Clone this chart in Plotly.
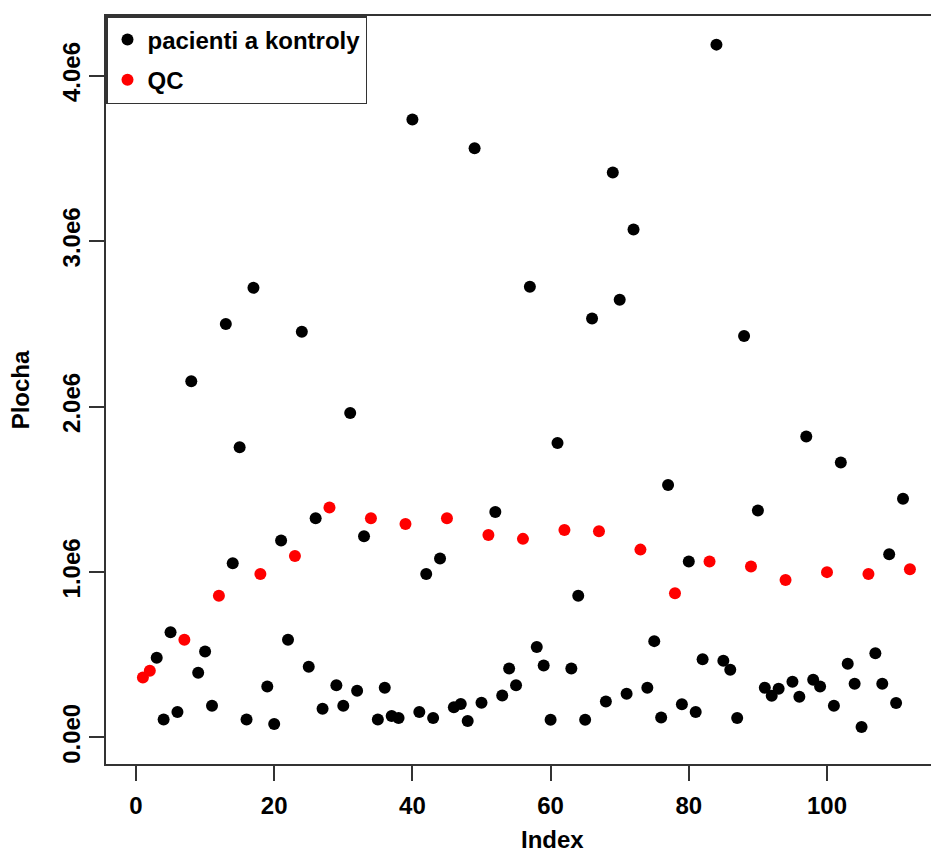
import plotly.graph_objects as go

# Peak area (Plocha) per injection, in run order (Index 1..112)
index = list(range(1, 113))
plocha = [
    0.362e6, 0.403e6, 0.481e6, 0.109e6, 0.636e6, 0.153e6, 0.590e6, 2.152e6, 0.391e6, 0.519e6,
    0.191e6, 0.856e6, 2.498e6, 1.053e6, 1.754e6, 0.109e6, 2.717e6, 0.988e6, 0.308e6, 0.081e6,
    1.190e6, 0.590e6, 1.097e6, 2.452e6, 0.427e6, 1.325e6, 0.173e6, 1.389e6, 0.316e6, 0.191e6,
    1.961e6, 0.282e6, 1.216e6, 1.325e6, 0.109e6, 0.300e6, 0.129e6, 0.117e6, 1.290e6, 3.734e6,
    0.153e6, 0.988e6, 0.117e6, 1.081e6, 1.325e6, 0.183e6, 0.202e6, 0.099e6, 3.561e6, 0.210e6,
    1.224e6, 1.363e6, 0.254e6, 0.417e6, 0.316e6, 1.200e6, 2.724e6, 0.546e6, 0.435e6, 0.107e6,
    1.780e6, 1.254e6, 0.417e6, 0.856e6, 0.107e6, 2.532e6, 1.246e6, 0.217e6, 3.414e6, 2.645e6,
    0.264e6, 3.070e6, 1.135e6, 0.300e6, 0.582e6, 0.121e6, 1.526e6, 0.872e6, 0.200e6, 1.063e6,
    0.153e6, 0.473e6, 1.063e6, 4.187e6, 0.463e6, 0.409e6, 0.117e6, 2.426e6, 1.033e6, 1.371e6,
    0.300e6, 0.252e6, 0.294e6, 0.952e6, 0.336e6, 0.246e6, 1.818e6, 0.348e6, 0.308e6, 0.999e6,
    0.191e6, 1.661e6, 0.445e6, 0.324e6, 0.063e6, 0.988e6, 0.509e6, 0.324e6, 1.107e6, 0.208e6,
    1.443e6, 1.017e6,
]

# Injections of the pooled QC sample
qc_index = [1, 2, 7, 12, 18, 23, 28, 34, 39, 45, 51, 56, 62, 67, 73, 78, 83, 89, 94, 100, 106, 112]

x_ticks = [0, 20, 40, 60, 80, 100]
y_ticks = [0, 1e6, 2e6, 3e6, 4e6]
y_tick_text = ["0.0e0", "1.0e6", "2.0e6", "3.0e6", "4.0e6"]

series_names = ["pacienti a kontroly", "QC"]
x_label = "Index"
y_label = "Plocha"

qc_set = set(qc_index)
samp_x = [i for i in index if i not in qc_set]
samp_y = [v for i, v in zip(index, plocha) if i not in qc_set]
qc_y = [plocha[i - 1] for i in qc_index]

FONT = dict(family="Liberation Sans, Arial, sans-serif", size=24, color="black", weight="bold")
AX = "#333333"

fig = go.Figure()
fig.add_trace(go.Scatter(
    x=samp_x, y=samp_y, mode="markers", name=series_names[0],
    marker=dict(color="black", size=12, line=dict(width=0)),
    legendgroup="a",
))
fig.add_trace(go.Scatter(
    x=qc_index, y=qc_y, mode="markers", name=series_names[1],
    marker=dict(color="#FF0000", size=12, line=dict(width=0)),
    legendgroup="b",
))

fig.update_layout(
    width=931, height=848,
    margin=dict(l=106, r=0, t=16, b=84),
    paper_bgcolor="white", plot_bgcolor="white",
    font=FONT,
    showlegend=True,
    legend=dict(
        x=0, y=1, xanchor="left", yanchor="top",
        bgcolor="white", bordercolor=AX, borderwidth=1.5,
        font=FONT, tracegroupgap=6, itemsizing="constant",
    ),
    xaxis=dict(
        range=[-4.34, 115.05], automargin=False,
        tickvals=x_ticks, ticks="outside", ticklen=15, tickwidth=1.5, tickcolor=AX,
        showline=True, linecolor=AX, linewidth=1.5, mirror=True,
        showgrid=False, zeroline=False,
        tickfont=FONT, ticklabelstandoff=4,
    ),
    yaxis=dict(
        range=[-0.1606e6, 4.360e6], automargin=False,
        tickvals=y_ticks, ticktext=y_tick_text, tickangle=-90,
        ticks="outside", ticklen=15, tickwidth=1.5, tickcolor=AX,
        showline=True, linecolor=AX, linewidth=1.5, mirror=True,
        showgrid=False, zeroline=False,
        tickfont=FONT,
        title=dict(text=y_label, font=FONT, standoff=21),
    ),
    annotations=[dict(
        text=x_label, xref="paper", yref="paper", x=0.541, y=-0.101,
        xanchor="center", yanchor="middle", showarrow=False, font=FONT,
    )],
)

fig.write_html("out.html")
